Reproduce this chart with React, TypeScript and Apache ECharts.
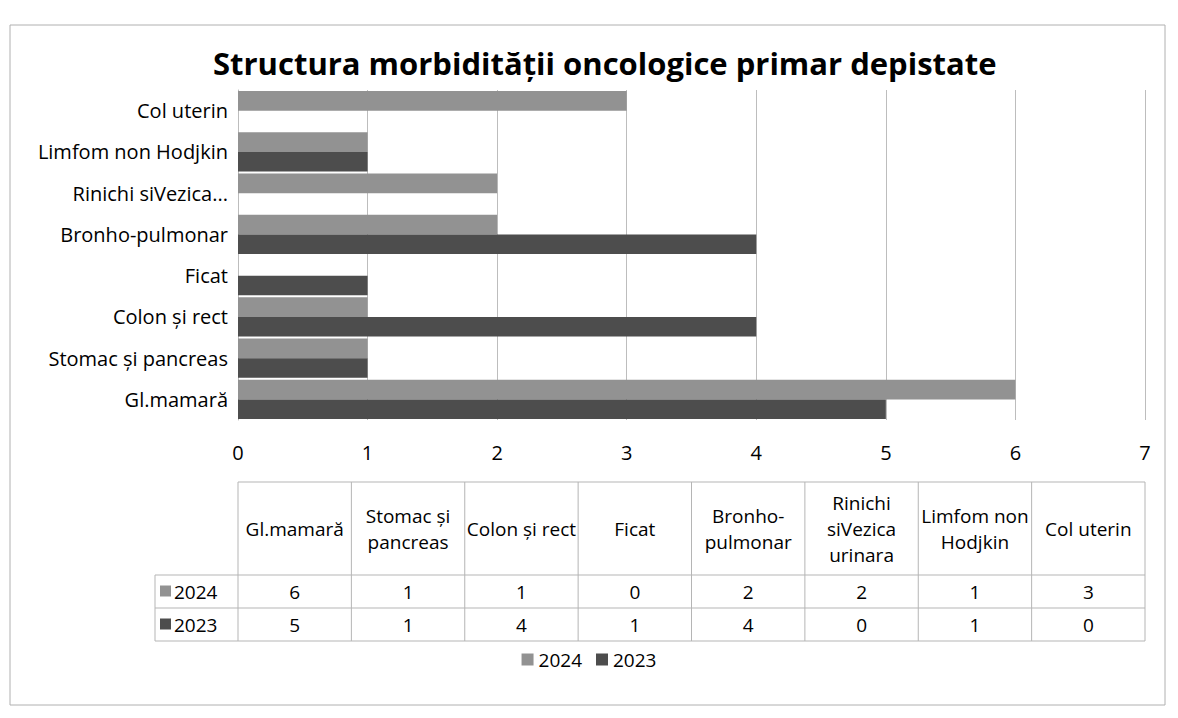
import React, { useEffect, useRef } from "react";
import * as echarts from "echarts";

const categories = [
  "Gl.mamară",
  "Stomac și pancreas",
  "Colon și rect",
  "Ficat",
  "Bronho-pulmonar",
  "Rinichi siVezica urinara",
  "Limfom non Hodjkin",
  "Col uterin",
];
const tableHeaders = [
  "Gl.mamară",
  "Stomac și\npancreas",
  "Colon și rect",
  "Ficat",
  "Bronho-\npulmonar",
  "Rinichi\nsiVezica\nurinara",
  "Limfom non\nHodjkin",
  "Col uterin",
];
const values2024 = [6, 1, 1, 0, 2, 2, 1, 3];
const values2023 = [5, 1, 4, 1, 4, 0, 1, 0];
const xTicks = { min: 0, max: 7, interval: 1 };

const title = "Structura morbidității oncologice primar depistate";
const color2024 = "#929292";
const color2023 = "#4d4d4d";
const FONT = "Open Sans";

export default function App() {
  const ref = useRef<HTMLDivElement>(null);
  useEffect(() => {
    if (!ref.current) return;
    const chart = echarts.init(ref.current, null, { renderer: "svg" });
    const W = 1162;
    const gridLeft = 230;
    const gridRight = 25;
    const tLeft = gridLeft;
    const tRight = W - gridRight;
    const colW = (tRight - tLeft) / categories.length;
    const hTop = 474;
    const hBot = 567;
    const rowH = 33;
    const rhLeft = 147;
    const lineStyle = { stroke: "#b5b5b5", lineWidth: 1 };
    const g: any[] = [];
    g.push({
      type: "rect",
      shape: { x: 2, y: 17, width: 1155, height: 680 },
      style: { fill: "none", stroke: "#b0b0b0", lineWidth: 1 },
    });
    g.push({ type: "line", shape: { x1: tLeft, y1: hTop, x2: tRight, y2: hTop }, style: lineStyle });
    for (let r = 0; r <= 2; r++) {
      const y = hBot + r * rowH;
      g.push({ type: "line", shape: { x1: rhLeft, y1: y, x2: tRight, y2: y }, style: lineStyle });
    }
    g.push({ type: "line", shape: { x1: rhLeft, y1: hBot, x2: rhLeft, y2: hBot + 2 * rowH }, style: lineStyle });
    for (let c = 0; c <= categories.length; c++) {
      const x = tLeft + c * colW;
      g.push({ type: "line", shape: { x1: x, y1: hTop, x2: x, y2: hBot + 2 * rowH }, style: lineStyle });
    }
    tableHeaders.forEach((h, i) => {
      g.push({
        type: "text",
        x: tLeft + (i + 0.5) * colW,
        y: (hTop + hBot) / 2,
        style: {
          text: h,
          fontSize: 19,
          fontFamily: FONT,
          fill: "#000",
          align: "center",
          verticalAlign: "middle",
          lineHeight: 26,
        },
      });
    });
    const rows = [
      { name: "2024", color: color2024, vals: values2024 },
      { name: "2023", color: color2023, vals: values2023 },
    ];
    rows.forEach((row, r) => {
      const cy = hBot + (r + 0.5) * rowH;
      g.push({
        type: "rect",
        shape: { x: rhLeft + 5, y: cy - 6, width: 11, height: 11 },
        style: { fill: row.color },
      });
      g.push({
        type: "text",
        x: rhLeft + 19,
        y: cy,
        style: { text: row.name, fontSize: 19, fontFamily: FONT, fill: "#000", verticalAlign: "middle" },
      });
      row.vals.forEach((v, i) => {
        g.push({
          type: "text",
          x: tLeft + (i + 0.5) * colW,
          y: cy,
          style: {
            text: String(v),
            fontSize: 19,
            fontFamily: FONT,
            fill: "#000",
            align: "center",
            verticalAlign: "middle",
          },
        });
      });
    });

    chart.setOption({
      animation: false,
      backgroundColor: "#fff",
      title: {
        text: title,
        left: 200,
        top: 34,
        textStyle: { fontSize: 31, fontWeight: "bold", fontFamily: FONT, color: "#000" },
      },
      legend: {
        data: ["2024", "2023"],
        top: 637,
        left: "center",
        itemWidth: 12,
        itemHeight: 12,
        itemGap: 14,
        icon: "rect",
        textStyle: { fontSize: 19, fontFamily: FONT, color: "#000" },
      },
      grid: { left: gridLeft, right: gridRight, top: 82, height: 330, containLabel: false },
      xAxis: {
        type: "value",
        ...xTicks,
        axisLine: { show: false },
        axisTick: { show: false },
        splitLine: { show: true, lineStyle: { color: "#bdbdbd", width: 1 } },
        axisLabel: { fontSize: 20, fontFamily: FONT, color: "#000", margin: 22 },
      },
      yAxis: {
        type: "category",
        data: categories,
        axisLine: { show: true, lineStyle: { color: "#bdbdbd" } },
        axisTick: { show: false },
        axisLabel: {
          fontSize: 20,
          fontFamily: FONT,
          color: "#000",
          margin: 10,
          formatter: (v: string) => (v === "Rinichi siVezica urinara" ? "Rinichi siVezica..." : v),
        },
      },
      series: [
        {
          name: "2024",
          type: "bar",
          data: values2024,
          itemStyle: { color: color2024 },
          barGap: "0%",
          barCategoryGap: "5%",
        },
        {
          name: "2023",
          type: "bar",
          data: values2023,
          itemStyle: { color: color2023 },
          barGap: "0%",
          barCategoryGap: "5%",
        },
      ],
      graphic: g,
    });
    return () => chart.dispose();
  }, []);
  return <div ref={ref} style={{ width: 1162, height: 702 }} />;
}
